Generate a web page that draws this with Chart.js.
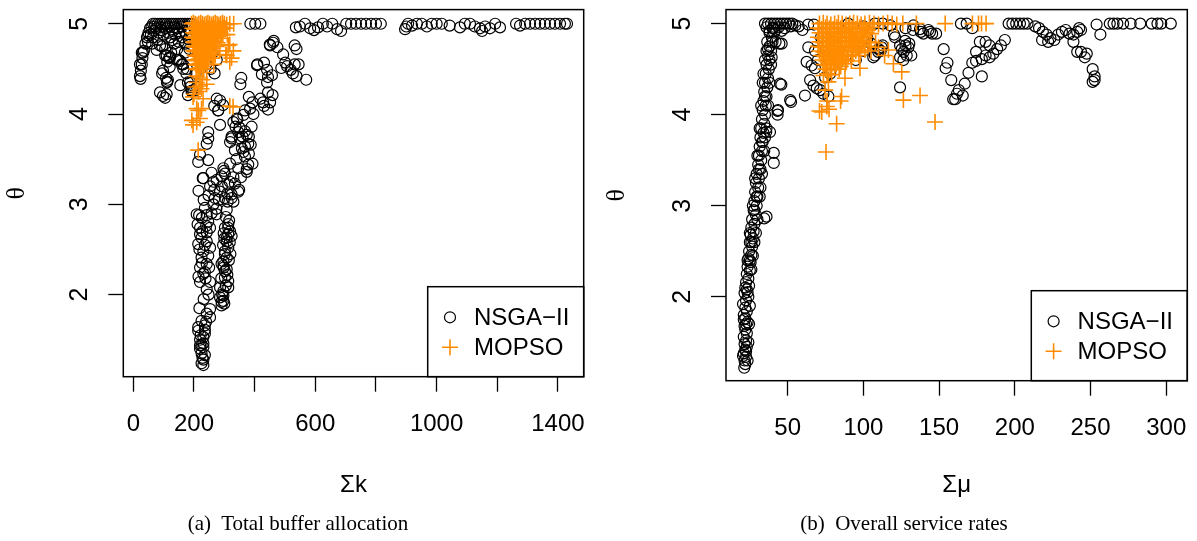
<!DOCTYPE html>
<html>
<head>
<meta charset="utf-8">
<script src="https://cdn.jsdelivr.net/npm/chart.js@4.4.0/dist/chart.umd.min.js"></script>
<style>
    body { margin: 0; background: #fff; width: 1197px; height: 541px; position: relative; overflow: hidden; }
    .panel { position: absolute; top: 0; }
    canvas { display: block; }
    .cap {
        position: absolute; top: 512px; line-height: 23px;
        font-family: "Liberation Serif", "Times New Roman", serif; font-size: 21px;
        white-space: pre; transform: translateX(-50%); color: #000;
    }
</style>
</head>
<body>
<div class="panel" style="left:0"><canvas id="chartA" width="600" height="541"></canvas></div>
<div class="panel" style="left:600px"><canvas id="chartB" width="597" height="541"></canvas></div>
<div class="cap" style="left:298px">(a)  Total buffer allocation</div>
<div class="cap" style="left:904px">(b)  Overall service rates</div>

<script>
// series names and axis ticks
const seriesNames = ["NSGA\u2212II", "MOPSO"];
const thetaTicks = [2, 3, 4, 5];
const kTicks = [0, 200, 400, 600, 800, 1000, 1200, 1400];
const kTickLabels = ["0", "200", "", "600", "", "1000", "", "1400"];
const muTicks = [50, 100, 150, 200, 250, 300];
const muTickLabels = ["50", "100", "150", "200", "250", "300"];

// (a) total buffer allocation: [sum k, theta]
const nsgaBuffer = [
    [45,4.85],[50,4.9],[55,4.95],[60,4.97],[65,5],[72,5],[80,5],[88,5],[95,5],[102,5],[110,5],[118,5],[125,5],[132,5],[140,5],[148,5],[155,5],[162,5],[170,5],[178,5],[185,5],[192,5],
    [58,4.88],[68,4.92],[75,4.95],[85,4.9],[92,4.93],[100,4.88],[108,4.95],[115,4.9],[122,4.85],[130,4.92],[138,4.88],[145,4.95],[152,4.9],[160,4.85],[168,4.92],[175,4.88],[182,4.83],[190,4.9],
    [40,4.78],[35,4.7],[30,4.62],[28,4.55],[25,4.48],[22,4.42],[24,4.39],[32,4.68],[48,4.8],[62,4.78],[80,4.82],[95,4.75],[105,4.72],[110,4.65],[118,4.62],[125,4.68],[112,4.58],[120,4.52],
    [95,4.45],[108,4.4],[112,4.36],[88,4.24],[98,4.2],[105,4.18],[110,4.22],[150,4.6],[160,4.55],[165,4.5],[175,4.45],[180,4.35],[188,4.3],[192,4.25],[170,4.68],[185,4.72],[155,4.32],[145,4.72],[135,4.78],
    [28,4.68],[22,4.55],[49,4.87],[77,4.71],[88,4.76],[143,4.6],[154,4.59],[177,4.5],[164,4.55],[187,4.35],[193,4.26],[180,4.21],[114,4.38],[111,4.35],[98,4.48],[121,4.63],[105,4.65],
    [70,4.97],[90,4.96],[115,4.97],[135,4.96],[158,4.97],[180,4.96],[65,4.85],[128,4.82],[150,4.8],[172,4.78],
    [205,4.8],[215,4.7],[225,4.6],[240,4.55],[255,4.5],[268,4.45],[275,4.6],[205,4.45],[210,4.3],[198,4.25],[275,4.17],[296,4.1],[280,4.04],[210,4.9],[230,4.85],[250,4.75],[262,4.68],
    [386,5],[402,5],[419,5],
    [536,4.96],[549,4.97],[566,5],[583,4.95],[596,4.93],[609,4.96],[625,5],[639,4.97],[656,5],[672,4.94],[685,4.92],[702,5],[718,5],[734,5],[751,5],[767,5],[784,5],[800,5],[816,5],
    [896,4.94],[900,4.97],[906,5],[919,4.98],[935,5],[951,5],[968,4.97],[984,5],[1000,5],[1017,5],[1043,4.98],[1077,4.96],[1093,5],[1110,5],[1126,4.97],[1143,4.95],[1150,4.92],[1160,4.97],[1176,4.95],[1193,5],[1209,4.96],
    [1262,5],[1275,4.98],[1292,5],[1308,5],[1325,5],[1341,5],[1357,5],[1374,5],[1390,5],[1407,5],[1423,5],[1430,5],
    [409,4.55],[431,4.57],[444,4.41],[457,4.43],[419,4.17],[431,4.09],[459,4.21],[444,4.24],[381,4.19],[393,4.13],[450,4.77],[463,4.81],[475,4.74],[494,4.66],[501,4.57],[488,4.51],[507,4.53],[519,4.49],
    [532,4.55],[526,4.45],[538,4.42],[532,4.76],[538,4.72],[545,4.55],[570,4.38],[353,4.33],[356,4.4],[451,4.76],[461,4.79],[441,4.49],[424,4.44],[408,4.54],[441,4.35],[451,4.13],[428,4.13],[444,4.05],
    [280,4.04],[286,3.88],[247,3.80],[247,3.73],[242,3.67],[220,3.55],[247,3.49],[214,3.47],[319,3.69],[324,3.75],[352,3.73],[346,3.80],[330,3.91],[341,3.95],[363,3.99],[368,4.04],[385,4.06],[396,4.00],
    [390,3.86],[374,3.77],[379,3.67],[363,3.58],[368,3.53],[379,3.44],[374,3.36],[346,3.40],[319,3.45],[297,3.40],[302,3.34],[291,3.31],[264,3.25],[231,3.29],[253,3.20],[275,3.27],[286,3.14],[313,3.22],
    [335,3.23],[346,3.14],[324,3.07],[302,3.07],[269,3.07],[264,3.00],[308,2.94],[275,2.89],[236,2.96],[209,2.89],[247,2.81],[220,2.74],[253,2.74],[225,2.63],[253,2.52],[231,2.48],[225,2.41],[242,2.34],
    [236,2.25],[220,2.14],[253,2.14],[242,2.06],[286,2.08],[313,2.08],[302,2.26],[291,2.34],[302,2.48],[308,2.59],[313,2.67],[302,2.74],[313,2.78],[324,2.65],[297,2.32],[308,2.28],[297,1.93],[291,1.88],
    [297,1.99],[253,1.84],[242,1.79],[225,1.71],[236,1.61],[220,1.50],[231,1.42],[225,1.35],[231,1.28],[231,1.22],[214,1.64],[253,1.75],[236,1.57],[225,1.44],[313,2.74],[319,2.70],[308,2.63],[313,2.52],
    [302,2.45],[308,2.41],[297,2.37],[302,2.19],[313,2.15],[297,2.04],[286,1.97],[291,1.92],[220,2.67],[242,2.69],[214,2.56],[242,2.59],[231,2.23],[220,2.30],[247,2.43],[214,1.60],[231,1.53],[220,1.40],
    [236,1.33],[225,1.24],[236,1.66],[231,1.46],[220,1.44],[368,3.81],[381,3.75],[387,3.66],[368,3.64],[381,3.56],[393,3.45],[374,3.39],[299,3.37],[318,3.25],[324,3.11],[311,3.03],[330,3.03],[349,3.16],
    [229,3.29],[267,3.16],[274,2.95],[242,2.88],[217,2.88],[267,4.09],[286,4.15],[343,3.94],[337,3.86],[324,3.73],
    [228,1.3],[222,1.55],[240,1.7],[218,1.85],[232,1.95],[248,2.0],[215,2.2],[238,2.18],[226,2.35],[250,2.3],[218,2.5],[236,2.55],[228,2.7],[212,2.78],[240,2.76],[226,2.85],[258,2.9],[232,3.05],
    [248,3.1],[215,3.15],[300,1.9],[293,2.0],[305,2.1],[290,2.18],[310,2.22],[298,2.3],[315,2.38],[296,2.55],[318,2.58],[300,2.62],[316,2.82],[305,2.86],[298,2.68],[320,2.45],
    [330,3.3],[355,3.3],[340,3.5],[358,3.62],[350,3.85],[360,3.75],[335,3.6],[292,3.2],[310,3.12],[282,3.05],[258,3.35]
];
const mopsoBuffer = [
    [192,5],[198,5.01],[204,5],[210,4.99],[216,5],[222,5.01],[228,5],[234,4.99],[240,5],[246,5.01],[252,5],[258,4.99],[264,5],[270,5.01],[276,5],[282,4.99],[288,5],[294,5.01],[300,5],[308,4.99],[318,5],[331,5],
    [195,4.95],[201,4.94],[207,4.96],[213,4.95],[219,4.94],[225,4.96],[231,4.95],[237,4.93],[243,4.96],[249,4.95],[255,4.94],[261,4.96],[267,4.95],[273,4.93],[279,4.96],[285,4.95],[291,4.94],[297,4.96],[304,4.95],
    [197,4.9],[203,4.89],[209,4.91],[215,4.9],[221,4.88],[227,4.91],[233,4.9],[239,4.89],[245,4.91],[251,4.9],[257,4.88],[263,4.91],[269,4.9],[275,4.89],[281,4.91],[287,4.9],[295,4.88],
    [194,4.85],[200,4.84],[206,4.86],[212,4.85],[218,4.83],[224,4.86],[230,4.85],[236,4.84],[242,4.86],[248,4.85],[254,4.83],[260,4.86],[266,4.85],[272,4.84],[280,4.86],[290,4.84],
    [198,4.8],[204,4.79],[210,4.81],[216,4.8],[222,4.78],[228,4.81],[234,4.8],[240,4.79],[246,4.81],[252,4.8],[258,4.78],[264,4.81],[270,4.8],[278,4.79],
    [200,4.75],[206,4.74],[212,4.76],[218,4.75],[224,4.73],[230,4.76],[236,4.75],[242,4.74],[248,4.76],[254,4.75],[262,4.73],[275,4.75],
    [198,4.7],[204,4.69],[210,4.71],[216,4.7],[222,4.68],[228,4.71],[234,4.7],[240,4.69],[246,4.71],[252,4.7],[260,4.68],[285,4.7],
    [202,4.65],[208,4.64],[214,4.66],[220,4.65],[226,4.63],[232,4.66],[238,4.65],[244,4.64],[250,4.66],[270,4.65],
    [204,4.6],[210,4.59],[216,4.61],[222,4.6],[228,4.58],[234,4.61],[240,4.6],[246,4.59],[260,4.62],
    [206,4.55],[212,4.54],[218,4.56],[224,4.55],[230,4.53],[236,4.56],[265,4.55],
    [208,4.5],[214,4.49],[220,4.51],[232,4.5],[242,4.46],
    [208,4.42],[218,4.4],[228,4.38],[205,4.3],[215,4.25],[225,4.28],[200,4.22],[209,4.35],[220,4.31],[197,4.19],[230,4.17],[209,4.06],[193,3.93],[197,3.88],[242,4.33],[329,4.08],[214,3.6],
    [209,3.91],[220,3.95],[214,4.04],[225,4.06],[318,4.09],[305,4.66],[318,4.77],[318,4.58],[324,4.62],[313,4.76],[330,4.70],[308,4.65],[310,4.88]
];

// (b) overall service rates: [sum mu, theta]
const nsgaService = [
    [21.3,1.22],[22,1.26],[21.5,1.3],[22.5,1.34],[21,1.38],[22,1.42],[23,1.45],[21.5,1.48],[22.5,1.52],[21,1.56],[23,1.6],[22,1.64],[21.5,1.68],[23.5,1.72],[22,1.76],[21,1.8],[23,1.84],[22,1.88],
    [20.5,1.92],[22.5,1.96],[24,2],[21.5,2.04],[23,2.08],[24.5,2.12],[22.5,2.16],[24,2.2],[23,2.25],[25,2.29],[23.5,2.33],[25.5,2.38],[24,2.42],[26,2.46],[24.5,2.5],[26.5,2.55],[25,2.6],[27,2.64],
    [25.5,2.68],[27.5,2.72],[26,2.76],[28,2.8],[26.5,2.85],[29,2.9],[27.5,2.95],[29.5,3],[28,3.05],[30,3.1],[28.5,3.15],[30.5,3.2],[29,3.25],[31,3.3],[29.5,3.35],[32,3.4],[30.5,3.45],[32.5,3.5],
    [31,3.55],[33,3.6],[31.5,3.65],[33.5,3.7],[32,3.75],[34,3.8],[32.5,3.85],[34.5,3.9],[33,3.95],[35,4],[33.5,4.05],[35.5,4.1],[34,4.15],[36,4.2],[34.5,4.25],[36.5,4.3],[35,4.35],[37,4.4],
    [35.5,4.45],[37.5,4.5],[36,4.55],[38,4.6],[37,4.65],[39,4.7],[38,4.75],[40,4.8],[39.5,4.85],[41,4.9],[40.5,4.95],
    [24,1.5],[25,1.9],[26,2.3],[28,2.6],[30,2.85],[31.5,3.1],[33,3.35],[34.5,3.6],[36,3.85],[37,4.1],[38,4.35],[39,4.55],[23.5,1.3],[24.5,1.7],[27,2.45],[29,2.7],[32,3.2],[35,3.75],
    [20.5,1.35],[21,1.75],[22,2.1],[23.5,2.4],[25,2.7],[27,3.0],[28.5,3.3],[30,3.55],[31.5,3.85],[32.5,4.1],[33.5,4.35],[35,4.6],[36.5,4.8],[38,4.9],
    [34,4.45],[36,4.7],[35,4.2],[33,3.7],[31,3.4],[29.5,3.1],[28,2.95],[26,2.6],[25,2.4],[23.5,2.05],[22.5,1.7],[22.5,1.4],
    [40.8,3.58],[40.8,3.47],[35.8,3.81],[38.3,3.81],[43.3,4.04],[43.3,4.0],[45.8,4.33],[52.2,4.14],[34.5,2.86],[36,2.88],[37,4.72],[42,4.8],[44.5,4.78],[39.4,4.63],[46,4.78],[44.9,4.34],[43.6,4.05],
    [35,5],[37,5],[39,5],[41,5],[43,5],[45,5],[47,5],[49,5],[51,5],[53,5],[36,4.96],[40,4.95],[44,4.96],[48,4.95],[52,4.97],[38,4.92],[42,4.93],[46,4.92],[55,4.98],[57.2,4.97],[59.7,4.93],[63.5,4.99],[67.3,4.99],
    [63.6,4.74],[62.5,4.58],[65.8,4.54],[68,4.51],[64.8,4.38],[67,4.32],[69.2,4.29],[71.4,4.27],[61.4,4.21],[73.6,4.23],[76.9,4.2],[74.7,4.41],[78,4.45],[51.6,4.16],
    [106.5,4.63],[109.8,4.69],[112,4.74],[120.9,4.85],[124.2,4.76],[127.5,4.81],[129.7,4.74],[124.2,4.63],[128.6,4.65],[126.4,4.6],[124.2,4.3],[144,4.91],[137.4,4.94],[139.6,4.89],[133,4.98],
    [145.4,4.89],[148,4.89],[142.9,4.93],[132.8,4.93],[137.9,4.91],[127.8,4.95],[125.3,4.72],[127.8,4.76],[130.3,4.78],[131.6,4.65],[126.6,4.69],[120.2,4.88],[107.6,4.65],[105.1,4.78],[102.6,4.84],
    [90,5],[100,4.97],[107.6,5],[112.7,5],[117.8,4.98],[110,4.72],[112.7,4.76],[111.4,4.7],[70,4.6],[68,4.7],[72,4.85],[100,4.7],[95,4.6],
    [153,4.72],[155.5,4.57],[154.3,4.51],[158,4.38],[159.3,4.17],[161.8,4.23],[163,4.27],[166.9,4.34],[165.6,4.21],[160.6,4.17],[169.4,4.46],[171.9,4.57],[174.4,4.59],[176.9,4.8],[174.4,4.69],[178.2,4.42],
    [164.4,5],[168.2,5],[171.9,4.95],[180.7,4.8],[183.3,4.76],[178.2,4.61],[180.7,4.65],[183.3,4.63],[185.8,4.67],[188.3,4.72],[190.8,4.76],[193.4,4.82],
    [195.9,5],[198.4,5],[200.9,5],[203.4,5],[205.9,5],[208.4,5],[213.5,4.97],[216,4.95],[218.5,4.91],[221,4.88],[223.5,4.84],[226.1,4.82],[228.6,4.88],[231.1,4.91],[233.6,4.93],[236.1,4.89],[238.7,4.88],
    [241.2,4.91],[242.5,4.95],[243.7,4.93],[238.7,4.8],[218,4.82],[222,4.8],[241.2,4.69],[243.7,4.69],[246.2,4.63],[247.5,4.67],[251.4,4.5],[252.7,4.42],[252.7,4.38],[251.4,4.36],[254,4.99],[256.5,4.88],
    [262.7,5],[265.2,5],[267.7,5],[271.5,5],[276.5,5],[282.8,5],[290.4,5],[294.2,5],[296.7,5],[303,5]
];
const mopsoService = [
    [71,5],[73.5,5.01],[76,5],[78.5,4.99],[81,5],[83.5,5.01],[86,5],[88.5,4.99],[91,5],[93.5,5.01],[96,5],[98.5,4.99],[101,5],[104,5.01],[107,5],[110,4.99],[113,5],[116,5.01],[119,5],[122,4.99],[126,5],
    [135,5],[154,5],[172,5],[176,5],[178,5],[181,5],
    [70,4.95],[72.5,4.94],[75,4.96],[77.5,4.95],[80,4.94],[82.5,4.96],[85,4.95],[87.5,4.93],[90,4.96],[92.5,4.95],[95,4.94],[97.5,4.96],[100,4.95],[103,4.93],[106,4.96],
    [71,4.9],[73.5,4.89],[76,4.91],[78.5,4.9],[81,4.88],[83.5,4.91],[86,4.9],[88.5,4.89],[91,4.91],[93.5,4.9],[96,4.88],[99,4.91],[102,4.9],[105,4.89],
    [70,4.85],[72.5,4.84],[75,4.86],[77.5,4.85],[80,4.83],[82.5,4.86],[85,4.85],[87.5,4.84],[90,4.86],[92.5,4.85],[95,4.83],[98,4.86],[101,4.85],
    [71,4.8],[73.5,4.79],[76,4.81],[78.5,4.8],[81,4.78],[83.5,4.81],[86,4.8],[88.5,4.79],[91,4.81],[94,4.8],[97,4.78],[100,4.81],[104,4.8],[108,4.79],
    [70,4.75],[72.5,4.74],[75,4.76],[77.5,4.75],[80,4.73],[82.5,4.76],[85,4.75],[87.5,4.74],[90,4.76],[93,4.75],[96,4.73],[99,4.76],[103,4.75],[110,4.74],
    [71,4.7],[73.5,4.69],[76,4.71],[78.5,4.7],[81,4.68],[83.5,4.71],[86,4.7],[89,4.69],[92,4.71],[95,4.7],[98,4.68],[101,4.71],[105,4.7],[116.5,4.71],
    [72,4.65],[74.5,4.64],[77,4.66],[79.5,4.65],[82,4.63],[84.5,4.66],[87,4.65],[90,4.64],[93,4.66],[97,4.65],[114,4.65],
    [73,4.6],[75.5,4.59],[78,4.61],[80.5,4.6],[83,4.58],[86,4.61],[89,4.6],[92,4.59],
    [74,4.55],[76.5,4.54],[79,4.56],[82,4.55],[85,4.53],[88,4.56],
    [75,4.5],[78,4.49],[81,4.51],[84,4.5],[97.7,4.51],[76,4.45],[79,4.44],
    [119.8,4.56],[125.3,4.47],[126.4,4.16],[137.4,4.21],[147.3,3.92],[75.3,3.59],[82.3,3.9],[85.6,4.2],[72.5,4.03],[75.8,4.09],[87.8,4.4],[76.9,4.36],[74.7,4.27],[73.6,4.43],[76,4.15],[84.9,4.15],
    [71,4.04],[77.3,4.06]
];

const orange = "#ff8c00";
const sansFont = '"Liberation Sans", Arial, Helvetica, sans-serif';
const serifFont = '"Liberation Serif", "Times New Roman", serif';

// plot frame, rotated y tick labels and legend box, like R's box(), axis(2) and legend()
const framePlugin = {
    id: "frame",
    afterDatasetsDraw(chart) {
        const ctx = chart.ctx;
        const a = chart.chartArea;
        const yScale = chart.scales.y;
        const lw = 156, lh = 90;
        const lx = a.right - lw, ly = a.bottom - lh;
        const sx = lx + 22.3;
        ctx.save();
        ctx.fillStyle = "#fff";
        ctx.fillRect(lx, ly, lw, lh);
        ctx.strokeStyle = "#000";
        ctx.lineWidth = 1.5;
        ctx.strokeRect(lx, ly, lw, lh);
        ctx.lineWidth = 1.2;
        ctx.beginPath();
        ctx.arc(sx, ly + 30.6, 5.5, 0, Math.PI * 2);
        ctx.stroke();
        ctx.strokeStyle = orange;
        ctx.lineWidth = 1.6;
        ctx.beginPath();
        ctx.moveTo(sx - 8, ly + 60.6); ctx.lineTo(sx + 8, ly + 60.6);
        ctx.moveTo(sx, ly + 52.6); ctx.lineTo(sx, ly + 68.6);
        ctx.stroke();
        ctx.fillStyle = "#000";
        ctx.font = "24px " + sansFont;
        ctx.textAlign = "left";
        ctx.textBaseline = "middle";
        ctx.fillText(seriesNames[0], lx + 46.3, ly + 31.6);
        ctx.fillText(seriesNames[1], lx + 46.3, ly + 61.6);
        ctx.strokeStyle = "#000";
        ctx.lineWidth = 1.5;
        ctx.strokeRect(a.left, a.top, a.right - a.left, a.bottom - a.top);

        ctx.font = "25px " + sansFont;
        ctx.textAlign = "center";
        thetaTicks.forEach(v => {
            ctx.save();
            ctx.translate(a.left - 44.3, yScale.getPixelForValue(v));
            ctx.rotate(-Math.PI / 2);
            ctx.fillText(String(v), 0, 1);
            ctx.restore();
        });
        ctx.restore();
    }
};

function makeChart(id, opt) {
    const W = opt.width, bottomPad = 40;
    return new Chart(document.getElementById(id), {
        type: "scatter",
        data: {
            datasets: [{
                label: seriesNames[0],
                data: opt.nsga.map(p => ({ x: p[0], y: p[1] })),
                pointStyle: "circle",
                pointRadius: 5.5,
                pointBorderWidth: 1.2,
                pointBorderColor: "#000",
                pointBackgroundColor: "rgba(0,0,0,0)",
                order: 2
            }, {
                label: seriesNames[1],
                data: opt.mopso.map(p => ({ x: p[0], y: p[1] })),
                pointStyle: "cross",
                pointRadius: 8,
                pointBorderWidth: 1.6,
                pointBorderColor: orange,
                pointBackgroundColor: orange,
                order: 1
            }]
        },
        options: {
            responsive: false,
            devicePixelRatio: 1,
            animation: false,
            events: [],
            layout: { padding: { left: 0, top: opt.area.top, right: W - opt.area.right, bottom: bottomPad } },
            plugins: { legend: { display: false }, tooltip: { enabled: false } },
            scales: {
                x: {
                    type: "linear",
                    min: opt.xMin, max: opt.xMax,
                    afterBuildTicks: s => { s.ticks = opt.xTicks.map(v => ({ value: v })); },
                    afterFit: s => { s.height = (541 - bottomPad) - opt.area.bottom; s.paddingLeft = 0; s.paddingRight = 0; },
                    ticks: {
                        autoSkip: false, maxRotation: 0, minRotation: 0, padding: 18,
                        color: "#000", font: { family: sansFont, size: 24 },
                        callback: (v, i) => opt.xLabels[i]
                    },
                    grid: { drawOnChartArea: false, drawTicks: true, tickLength: 15, tickWidth: 1.3, tickColor: "#000" },
                    border: { display: false },
                    title: { display: true, text: opt.xTitle, color: "#000", font: { family: sansFont, size: 24 }, padding: { top: 0, bottom: 1 } }
                },
                y: {
                    type: "linear",
                    min: opt.yMin, max: opt.yMax,
                    afterBuildTicks: s => { s.ticks = thetaTicks.map(v => ({ value: v })); },
                    afterFit: s => { s.width = opt.area.left; s.paddingTop = 0; s.paddingBottom = 0; },
                    ticks: { display: false },
                    grid: { drawOnChartArea: false, drawTicks: true, tickLength: 15, tickWidth: 1.3, tickColor: "#000" },
                    border: { display: false },
                    title: { display: true, text: "\u03b8", color: "#000", font: { family: serifFont, size: 26 }, padding: { top: 2, bottom: 0 } }
                }
            }
        },
        plugins: [framePlugin]
    });
}

makeChart("chartA", {
    width: 600,
    nsga: nsgaBuffer, mopso: mopsoBuffer,
    area: { left: 123.3, top: 6.7, right: 583.7, bottom: 376.7 },
    xMin: -33, xMax: 1485, yMin: 1.091, yMax: 5.157,
    xTicks: kTicks, xLabels: kTickLabels, xTitle: "\u03a3k"
});

makeChart("chartB", {
    width: 597,
    nsga: nsgaService, mopso: mopsoService,
    area: { left: 126, top: 9.3, right: 587.3, bottom: 380.7 },
    xMin: 9.25, xMax: 313.9, yMin: 1.078, yMax: 5.154,
    xTicks: muTicks, xLabels: muTickLabels, xTitle: "\u03a3\u03bc"
});
</script>
</body>
</html>
